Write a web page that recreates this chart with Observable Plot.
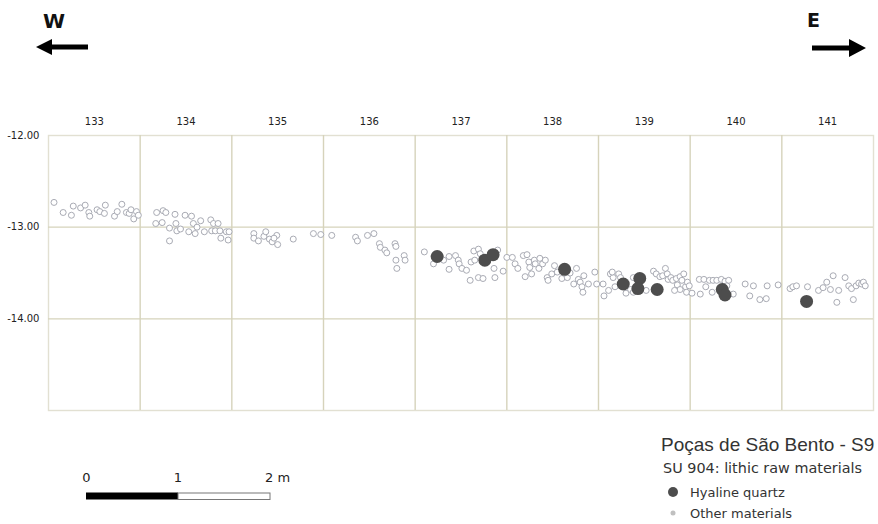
<!DOCTYPE html>
<html><head><meta charset="utf-8">
<script src="https://cdn.jsdelivr.net/npm/d3@7"></script>
<script src="https://cdn.jsdelivr.net/npm/@observablehq/plot@0.6"></script>
<style>
body{margin:0;background:#fff;}
#wrap{position:relative;width:878px;height:524px;overflow:hidden;background:#fff;}
#wrap svg.ov{position:absolute;left:0;top:0;pointer-events:none;}
#wrap > svg:first-child{display:block;}
</style></head><body><div id="wrap"></div>
<script>
// Section (square) labels along the top and elevations on the left
const sectionLabels = [133,134,135,136,137,138,139,140,141];
const gridX = [133.5,134.5,135.5,136.5,137.5,138.5,139.5,140.5];
const gridY = [-13,-14];
const yTicks = [-12,-13,-14];

// Other materials: easting (x) and elevation (z)
const otherX = [132.56,132.66,132.75,132.77,132.85,132.90,132.94,132.95,133.03,133.06,133.11,133.12,133.22,133.25,133.30,133.35,133.38,133.40,133.43,133.46,133.48,133.68,133.75,133.78,133.67,133.74,133.88,133.89,133.82,133.99,134.06,134.08,133.90,133.94,134.03,134.10,134.12,134.16,134.20,134.27,134.30,134.28,134.32,134.35,134.37,134.44,134.47,134.38,134.46,133.82,
134.74,134.74,134.79,134.85,134.87,134.91,134.94,134.99,135.00,134.96,135.17,135.39,135.47,135.59,135.85,135.87,135.98,136.05,136.11,136.12,136.17,136.19,136.28,136.29,136.29,136.38,136.39,136.30,
136.60,136.70,136.81,136.87,136.94,136.97,136.98,136.87,137.01,137.06,137.10,137.14,137.11,137.15,137.19,137.24,137.19,137.21,137.37,137.40,137.36,137.46,137.50,137.56,137.59,137.62,137.68,137.72,137.70,137.74,137.75,137.77,137.80,137.81,137.85,137.86,137.89,137.92,137.94,137.95,137.99,138.02,138.05,138.10,138.16,138.19,138.23,138.26,138.28,138.30,138.32,138.33,138.34,138.39,138.46,138.48,
138.55,138.56,138.61,138.63,138.66,138.65,138.68,138.72,138.74,138.80,138.85,138.88,138.88,138.98,139.02,139.10,139.13,139.17,139.20,139.23,139.25,139.26,139.29,139.31,139.35,139.36,139.39,139.41,139.43,139.45,139.46,139.47,139.49,139.52,139.39,139.33,139.61,139.60,139.65,139.67,139.71,139.75,139.79,139.84,139.88,139.92,139.90,139.97,139.74,140.10,140.19,140.15,140.26,140.33,140.34,140.46,140.59,140.62,140.66,140.78,140.90,140.95,140.99,141.03,141.06,141.12,141.10,141.19,141.23,141.26,141.28,141.31,141.34,141.37,141.39,141.41];
const otherZ = [-12.73,-12.84,-12.87,-12.77,-12.79,-12.76,-12.84,-12.88,-12.81,-12.83,-12.85,-12.76,-12.88,-12.83,-12.75,-12.84,-12.85,-12.81,-12.91,-12.83,-12.87,-12.84,-12.82,-12.84,-12.96,-12.95,-12.86,-12.96,-13.01,-12.87,-12.88,-12.96,-13.04,-13.02,-13.05,-13.07,-13.00,-12.93,-13.05,-12.92,-12.96,-13.04,-13.04,-12.96,-13.04,-13.05,-13.05,-13.12,-13.14,-13.15,
-13.07,-13.12,-13.15,-13.10,-13.05,-13.13,-13.16,-13.09,-13.19,-13.12,-13.13,-13.07,-13.08,-13.09,-13.11,-13.15,-13.09,-13.07,-13.18,-13.22,-13.25,-13.28,-13.18,-13.21,-13.36,-13.31,-13.36,-13.45,
-13.27,-13.40,-13.36,-13.32,-13.31,-13.36,-13.40,-13.46,-13.45,-13.47,-13.58,-13.26,-13.38,-13.36,-13.55,-13.56,-13.24,-13.29,-13.55,-13.25,-13.45,-13.48,-13.33,-13.33,-13.40,-13.45,-13.31,-13.30,-13.54,-13.38,-13.44,-13.51,-13.36,-13.40,-13.45,-13.34,-13.40,-13.36,-13.55,-13.58,-13.51,-13.42,-13.49,-13.56,-13.55,-13.50,-13.62,-13.45,-13.57,-13.60,-13.65,-13.71,-13.53,-13.62,-13.49,-13.62,
-13.62,-13.75,-13.69,-13.51,-13.55,-13.49,-13.65,-13.51,-13.55,-13.72,-13.68,-13.55,-13.71,-13.54,-13.69,-13.48,-13.51,-13.54,-13.53,-13.45,-13.51,-13.57,-13.55,-13.58,-13.56,-13.63,-13.54,-13.58,-13.51,-13.65,-13.71,-13.60,-13.64,-13.72,-13.68,-13.69,-13.73,-13.57,-13.57,-13.65,-13.58,-13.58,-13.58,-13.57,-13.59,-13.58,-13.64,-13.73,-13.71,-13.62,-13.64,-13.75,-13.79,-13.78,-13.64,-13.63,-13.67,-13.65,-13.64,-13.65,-13.69,-13.66,-13.60,-13.68,-13.53,-13.69,-13.82,-13.55,-13.64,-13.67,-13.79,-13.64,-13.61,-13.62,-13.60,-13.64];

// Hyaline quartz
const quartzX = [136.74,137.26,137.35,138.13,138.77,138.95,138.93,139.14,139.85,139.88,140.77];
const quartzZ = [-13.32,-13.36,-13.30,-13.46,-13.62,-13.56,-13.67,-13.68,-13.68,-13.74,-13.81];

const scaleLabels = ["0","1","2 m"];

const others = otherX.map((x,i)=>({x, z: otherZ[i]}));
const quartz = quartzX.map((x,i)=>({x, z: quartzZ[i]}));

const chart = Plot.plot({
  width: 878, height: 420,
  marginLeft: 48, marginRight: 5, marginTop: 135, marginBottom: 10,
  x: {domain: [132.5, 141.5], axis: "top", ticks: sectionLabels, tickSize: 0, tickPadding: 11, tickFormat: d => String(d), label: null},
  y: {domain: [-15, -12], ticks: yTicks, tickSize: 0, tickPadding: 9, tickFormat: d => d.toFixed(2), label: null},
  style: {fontFamily: "DejaVu Sans, Verdana, sans-serif", fontSize: "10px", color: "#222", background: "white", overflow: "visible"},
  marks: [
    Plot.frame({stroke: "#e2e0d2", strokeWidth: 1.4}),
    Plot.ruleX(gridX, {stroke: "#d6d3bb", strokeWidth: 1.4}),
    Plot.ruleY(gridY, {stroke: "#d6d3bb", strokeWidth: 1.4}),
    Plot.dot(others, {x: "x", y: "z", r: 3, stroke: "#a9abb4", strokeWidth: 1, fill: "white"}),
    Plot.dot(quartz, {x: "x", y: "z", r: 6.5, fill: "#4d4d4d"})
  ]
});
const wrap = document.getElementById("wrap");
wrap.appendChild(chart);

// Decorations: orientation arrows, title, legend, scale bar
const ov = d3.select(wrap).append("svg").attr("class","ov").attr("width",878).attr("height",524)
  .style("font-family","DejaVu Sans, Verdana, sans-serif");
ov.append("text").attr("x",43).attr("y",28).attr("font-size",20).attr("font-weight","bold").attr("fill","#111").text("W");
ov.append("polygon").attr("points","36,47 52,39 52,44.5 88,44.5 88,49.5 52,49.5 52,55").attr("fill","#000");
ov.append("text").attr("x",807).attr("y",27).attr("font-size",19).attr("font-weight","bold").attr("fill","#111").text("E");
ov.append("polygon").attr("points","812,45.5 849,45.5 849,39 866,48 849,57 849,50.5 812,50.5").attr("fill","#000");

ov.append("text").attr("x",661).attr("y",451).attr("font-size",19).attr("fill","#333")
  .style("font-family","'Liberation Sans', Arial, sans-serif").text("Poças de São Bento - S9");
ov.append("text").attr("x",663).attr("y",473).attr("font-size",13.5).attr("fill","#333")
  .attr("textLength",199).attr("lengthAdjust","spacingAndGlyphs").text("SU 904: lithic raw materials");
ov.append("circle").attr("cx",673).attr("cy",492).attr("r",5).attr("fill","#4d4d4d");
ov.append("text").attr("x",690).attr("y",497).attr("font-size",13).attr("fill","#333").text("Hyaline quartz");
ov.append("circle").attr("cx",673).attr("cy",513).attr("r",2.5).attr("fill","#c0c0c0");
ov.append("text").attr("x",690).attr("y",518).attr("font-size",13).attr("fill","#333").text("Other materials");

ov.append("rect").attr("x",86).attr("y",492.5).attr("width",92).attr("height",7).attr("fill","#000");
ov.append("rect").attr("x",178).attr("y",493).attr("width",92).attr("height",6.5).attr("fill","#fff").attr("stroke","#777").attr("stroke-width",1);
ov.append("text").attr("x",86.5).attr("y",482).attr("font-size",13).attr("text-anchor","middle").attr("fill","#222").text(scaleLabels[0]);
ov.append("text").attr("x",178).attr("y",482).attr("font-size",13).attr("text-anchor","middle").attr("fill","#222").text(scaleLabels[1]);
ov.append("text").attr("x",265).attr("y",482).attr("font-size",13).attr("fill","#222").text(scaleLabels[2]);
</script>
</body></html>
